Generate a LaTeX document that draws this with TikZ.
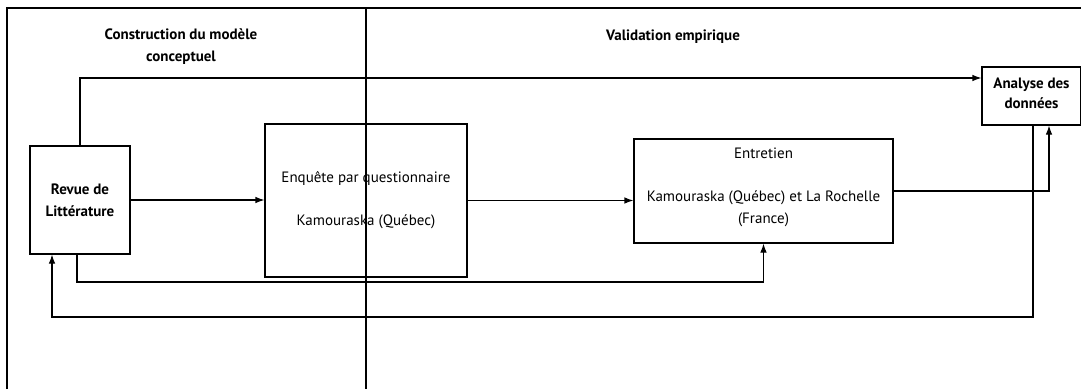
\documentclass[tikz,border=0pt]{standalone}
\usepackage{fontspec}
\setmainfont{PT Sans}
\usetikzlibrary{arrows.meta}
\begin{document}
\begin{tikzpicture}[x=1pt,y=-1pt,
  every node/.style={font=\fontsize{15}{22}\selectfont},
  box/.style={draw, line width=1.1pt, inner sep=0pt, align=center},
  head/.style={font=\fontsize{15}{22}\selectfont\bfseries, align=center},
  link/.style={line width=1.1pt},
  arr/.style={link, -{Latex[length=9pt,width=6.5pt]}}]
\useasboundingbox (0,0) rectangle (1081,389);
% frame and phase divider
\coordinate (fbl) at (7,389);
\coordinate (ftl) at (7,8);
\coordinate (ftr) at (1081,8);
\coordinate (dtop) at (366,8);
\coordinate (dbot) at (366,389);
\draw[link] (fbl) -- (ftl) -- (ftr);
\draw[link] (dtop) -- (dbot);
% phase headings
\node[head] (h1) at (181,47) {Construction du modèle\\conceptuel};
\node[head] (h2) at (673,37) {Validation empirique};
% boxes
\node[box, font=\fontsize{15}{22}\selectfont\bfseries, minimum width=100pt, minimum height=108pt] (rev) at (80,200) {Revue de\\Littérature};
\node[box, minimum width=202pt, minimum height=153pt] (enq) at (366,200.5) {Enquête par questionnaire\\[21pt]Kamouraska (Québec)};
\node[box, minimum width=259pt, minimum height=104pt] (ent) at (763.5,191) {};
\node[align=center, font=\fontsize{15}{22}\selectfont] (entt) at (763.5,187) {Entretien\\[21pt]Kamouraska (Québec) et La Rochelle\\(France)};
\node[box, minimum width=99pt, minimum height=58pt] (ana) at (1031.5,96) {};
\node[align=center, font=\fontsize{15}{20}\selectfont\bfseries] (anat) at (1031.5,93) {Analyse des\\données};
% levels of the return lines
\coordinate (lowa) at (0,282);
\coordinate (lowb) at (0,317);
% connectors
\draw[arr] (rev.north) |- ([yshift=18pt]ana.west);
\draw[arr] (rev.east) -- (rev.east -| enq.west);
\draw[arr] (enq.east) -- (enq.east -| ent.west);
\draw[arr] (ent.east) -| ([xshift=17.5pt]ana.south);
\draw[arr] ([xshift=-3pt]rev.south) |- (ent.south |- lowa) -- (ent.south);
\draw[arr] ([xshift=1.5pt]ana.south) |- ([xshift=-28pt]rev.south |- lowb) -- ([xshift=-28pt]rev.south);
\end{tikzpicture}
\end{document}
